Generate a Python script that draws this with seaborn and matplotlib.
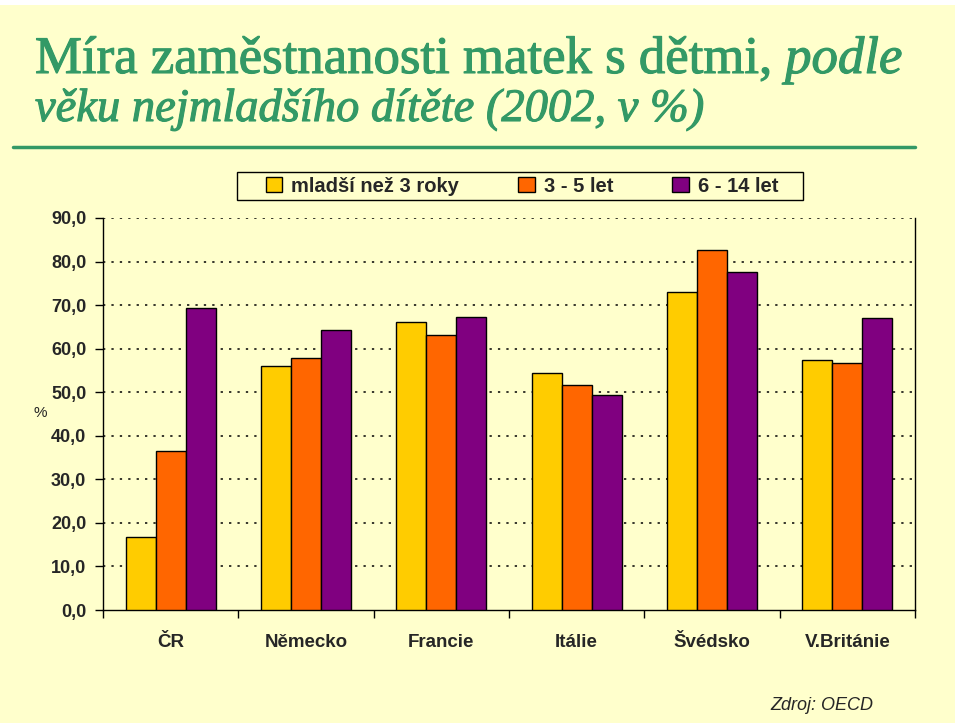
import matplotlib
matplotlib.use("Agg")
import matplotlib.pyplot as plt
import matplotlib.patches as mpatches
import matplotlib.patheffects as pe
import pandas as pd
import seaborn as sns

# data
countries = ["ČR", "Německo", "Francie", "Itálie", "Švédsko", "V.Británie"]
groups = ["mladší než 3 roky", "3 - 5 let", "6 - 14 let"]
under3 = [16.8, 56.0, 66.1, 54.4, 73.0, 57.4]
age3_5 = [36.5, 57.9, 63.1, 51.7, 82.6, 56.7]
age6_14 = [69.3, 64.3, 67.3, 49.4, 77.6, 67.0]
yticks = [0, 10, 20, 30, 40, 50, 60, 70, 80, 90]
colors = ["#FFCC00", "#FF6600", "#800080"]

bg = "#FFFFCC"
green = "#339966"

rows = []
for name, vals in zip(groups, [under3, age3_5, age6_14]):
    for c, v in zip(countries, vals):
        rows.append({"zeme": c, "skupina": name, "hodnota": v})
df = pd.DataFrame(rows)

sns.set_theme(style="white")
plt.rcParams["font.family"] = ["Liberation Sans", "DejaVu Sans"]

fig = plt.figure(figsize=(9.6, 7.23), dpi=100)
fig.patch.set_facecolor("white")
# cream slide background with thin white margin top/right
fig.patches.append(mpatches.Rectangle((0, 0), 955 / 960, 718 / 723, transform=fig.transFigure,
                                      facecolor=bg, edgecolor="none", zorder=-10))

ax = fig.add_axes([103 / 960, 1 - 610 / 723, 812 / 960, 392 / 723])
ax.set_facecolor(bg)

sns.barplot(data=df, x="zeme", y="hodnota", hue="skupina", palette=colors,
            width=0.667, edgecolor="black", linewidth=1, saturation=1, ax=ax, zorder=3)

ax.set_ylim(0, 90)
ax.set_xlim(-0.5, 5.5)
ax.set_yticks(yticks)
ax.set_yticklabels([f"{v:.1f}".replace(".", ",") for v in yticks],
                   fontsize=13, fontweight="bold")
for y in yticks[1:]:
    ax.axhline(y, color="black", linestyle=(0, (1.5, 4)), linewidth=1.1, zorder=1)
ax.tick_params(axis="y", direction="out", length=6, width=1, color="black", pad=6, left=True)

ax.set_xticks(range(len(countries)))
ax.set_xticklabels(countries, fontsize=13.5, fontweight="bold")
ax.tick_params(axis="x", length=0, pad=17)
ax.set_xticks([i - 0.5 for i in range(len(countries) + 1)], minor=True)
ax.tick_params(axis="x", which="minor", direction="out", length=6, width=1, color="black", bottom=True)

ax.set_xlabel("")
ax.set_ylabel("")
for s in ["left", "bottom", "right"]:
    ax.spines[s].set_color("black")
    ax.spines[s].set_linewidth(1)
ax.spines["top"].set_visible(False)

# legend: frame drawn as a separate box, entries spread inside it
fig.patches.append(mpatches.Rectangle((237 / 960, 1 - 200 / 723), 566 / 960, 28 / 723,
                                      transform=fig.transFigure, facecolor=bg,
                                      edgecolor="black", linewidth=1, zorder=1))
handles, labels = ax.get_legend_handles_labels()
ax.get_legend().remove()
leg = fig.legend(handles, labels, loc="center left",
                 bbox_to_anchor=(266 / 960, 1 - 200 / 723, 512 / 960, 28 / 723),
                 mode="expand", ncol=3, frameon=False,
                 handlelength=0.8, handleheight=0.8, handletextpad=0.45,
                 borderpad=0, borderaxespad=0, prop={"size": 14.5, "weight": "bold"})
leg.set_zorder(2)

fig.text(40 / 960, 1 - 413 / 723, "%", fontsize=11, ha="center", va="center")

# title
thick = [pe.withStroke(linewidth=0.8, foreground=green)]
renderer = fig.canvas.get_renderer()
t1 = fig.text(35 / 960, 1 - 73 / 723, "Míra zaměstnanosti matek s dětmi, ", fontsize=38,
              family="Liberation Serif", color=green, va="baseline", ha="left",
              path_effects=thick)
x_end = t1.get_window_extent(renderer).x1 / fig.bbox.width
fig.text(x_end, 1 - 73 / 723, "podle", fontsize=38, family="Liberation Serif",
         style="italic", color=green, va="baseline", ha="left", path_effects=thick)
fig.text(35 / 960, 1 - 121 / 723, "věku nejmladšího dítěte (2002, v %)", fontsize=33.5,
         family="Liberation Serif", style="italic", color=green, va="baseline", ha="left",
         path_effects=thick)
fig.add_artist(plt.Line2D([13 / 960, 915 / 960], [1 - 147 / 723, 1 - 147 / 723],
                          color=green, linewidth=2.5, transform=fig.transFigure))

fig.text(873 / 960, 1 - 705 / 723, "Zdroj: OECD", fontsize=13, style="italic",
         ha="right", va="center")

fig.savefig("out.png", dpi=100, facecolor=fig.get_facecolor())
